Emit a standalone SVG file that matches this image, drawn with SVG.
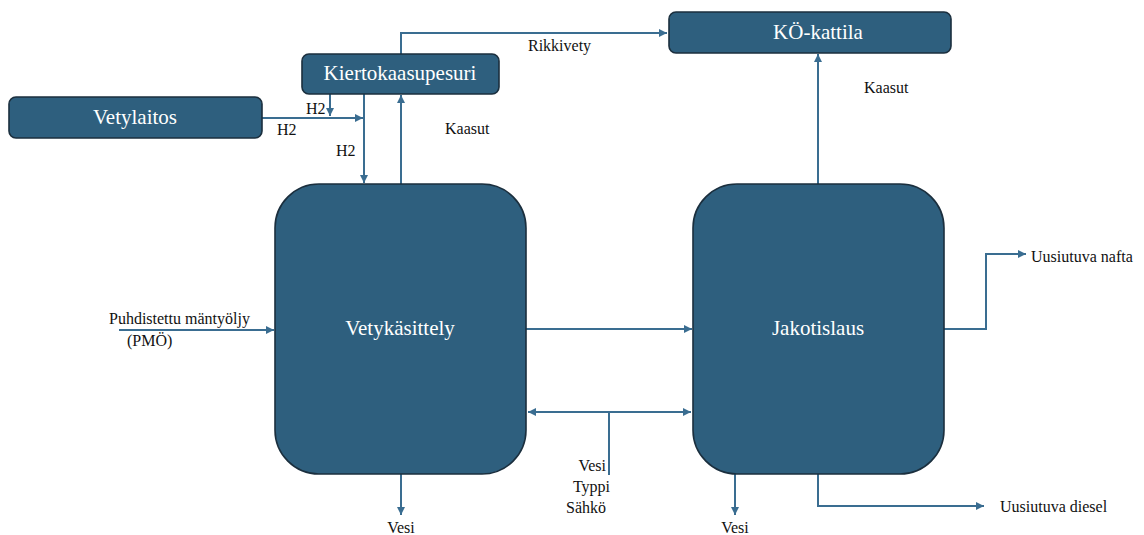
<svg xmlns="http://www.w3.org/2000/svg" width="1144" height="535" viewBox="0 0 1144 535">
  <style>
    .node { fill: #2e5f7e; stroke: #1b2f3e; stroke-width: 1.6; }
    .nlabel { font-family: "Liberation Serif", "Times New Roman", serif; font-size: 21px; fill: #ffffff; text-anchor: middle; }
    .flow { fill: none; stroke: #3a6d91; stroke-width: 2; }
    .lbl { font-family: "Liberation Serif", "Times New Roman", serif; font-size: 16px; fill: #111111; }
  </style>
  <defs>
    <marker id="arrow" markerUnits="userSpaceOnUse" markerWidth="10" markerHeight="10" refX="8" refY="4" orient="auto">
      <path d="M0,0 L8,4 L0,8 Z" fill="#3a6d91"/>
    </marker>
    <marker id="arrowStart" markerUnits="userSpaceOnUse" markerWidth="10" markerHeight="10" refX="0" refY="4" orient="auto">
      <path d="M8,0 L0,4 L8,8 Z" fill="#3a6d91"/>
    </marker>
  </defs>
  <rect width="1144" height="535" fill="#ffffff"/>

  <!-- connectors -->
  <g id="connectors">
    <!-- Rikkivety: scrubber to boiler -->
    <path class="flow" d="M401,54 V33 H667" marker-end="url(#arrow)"/>
    <!-- Kaasut: distillation to boiler -->
    <path class="flow" d="M818,184 V54" marker-end="url(#arrow)"/>
    <!-- H2 from hydrogen plant -->
    <path class="flow" d="M262,118 H363" marker-end="url(#arrow)"/>
    <!-- H2 from scrubber (short) -->
    <path class="flow" d="M330,94 V116" marker-end="url(#arrow)"/>
    <!-- H2 down to hydrotreatment -->
    <path class="flow" d="M364,94 V183" marker-end="url(#arrow)"/>
    <!-- Kaasut up to scrubber -->
    <path class="flow" d="M401,184 V95" marker-end="url(#arrow)"/>
    <!-- Feed (PMÖ) -->
    <path class="flow" d="M119,330 H274" marker-end="url(#arrow)"/>
    <!-- Hydrotreatment to distillation -->
    <path class="flow" d="M526,329 H692" marker-end="url(#arrow)"/>
    <!-- Utilities: water, nitrogen, electricity -->
    <path class="flow" d="M528,412 H691" marker-start="url(#arrowStart)" marker-end="url(#arrow)"/>
    <path class="flow" d="M609,412 V475"/>
    <!-- Water outlets -->
    <path class="flow" d="M401,474 V515" marker-end="url(#arrow)"/>
    <path class="flow" d="M735,474 V515" marker-end="url(#arrow)"/>
    <!-- Products -->
    <path class="flow" d="M944,329 H986 V254 H1026" marker-end="url(#arrow)"/>
    <path class="flow" d="M818,474 V506 H984" marker-end="url(#arrow)"/>
  </g>

  <!-- connector labels -->
  <g id="labels">
    <text class="lbl" x="528" y="51">Rikkivety</text>
    <text class="lbl" x="864" y="93">Kaasut</text>
    <text class="lbl" x="445" y="134">Kaasut</text>
    <text class="lbl" x="306" y="114">H2</text>
    <text class="lbl" x="277" y="135">H2</text>
    <text class="lbl" x="336" y="156">H2</text>
    <text class="lbl" x="109" y="324">Puhdistettu mäntyöljy</text>
    <text class="lbl" x="127" y="346">(PMÖ)</text>
    <text class="lbl" x="606" y="471" text-anchor="end">Vesi</text>
    <text class="lbl" x="610" y="492" text-anchor="end">Typpi</text>
    <text class="lbl" x="606" y="513" text-anchor="end">Sähkö</text>
    <text class="lbl" x="401" y="533" text-anchor="middle">Vesi</text>
    <text class="lbl" x="735" y="533" text-anchor="middle">Vesi</text>
    <text class="lbl" x="1031" y="262">Uusiutuva nafta</text>
    <text class="lbl" x="1000" y="512">Uusiutuva diesel</text>
  </g>

  <!-- nodes -->
  <g id="vetylaitos">
    <rect class="node" x="9" y="97" width="253" height="41" rx="7"/>
    <text class="nlabel" x="135" y="124">Vetylaitos</text>
  </g>
  <g id="kiertokaasupesuri">
    <rect class="node" x="302" y="54" width="197" height="40" rx="7"/>
    <text class="nlabel" x="400" y="80">Kiertokaasupesuri</text>
  </g>
  <g id="ko-kattila">
    <rect class="node" x="669" y="12" width="282" height="41" rx="7"/>
    <text class="nlabel" x="818" y="39">KÖ-kattila</text>
  </g>
  <g id="vetykasittely">
    <rect class="node" x="275" y="184" width="251" height="290" rx="44"/>
    <text class="nlabel" x="400" y="335">Vetykäsittely</text>
  </g>
  <g id="jakotislaus">
    <rect class="node" x="693" y="184" width="251" height="290" rx="44"/>
    <text class="nlabel" x="818" y="335">Jakotislaus</text>
  </g>
</svg>
